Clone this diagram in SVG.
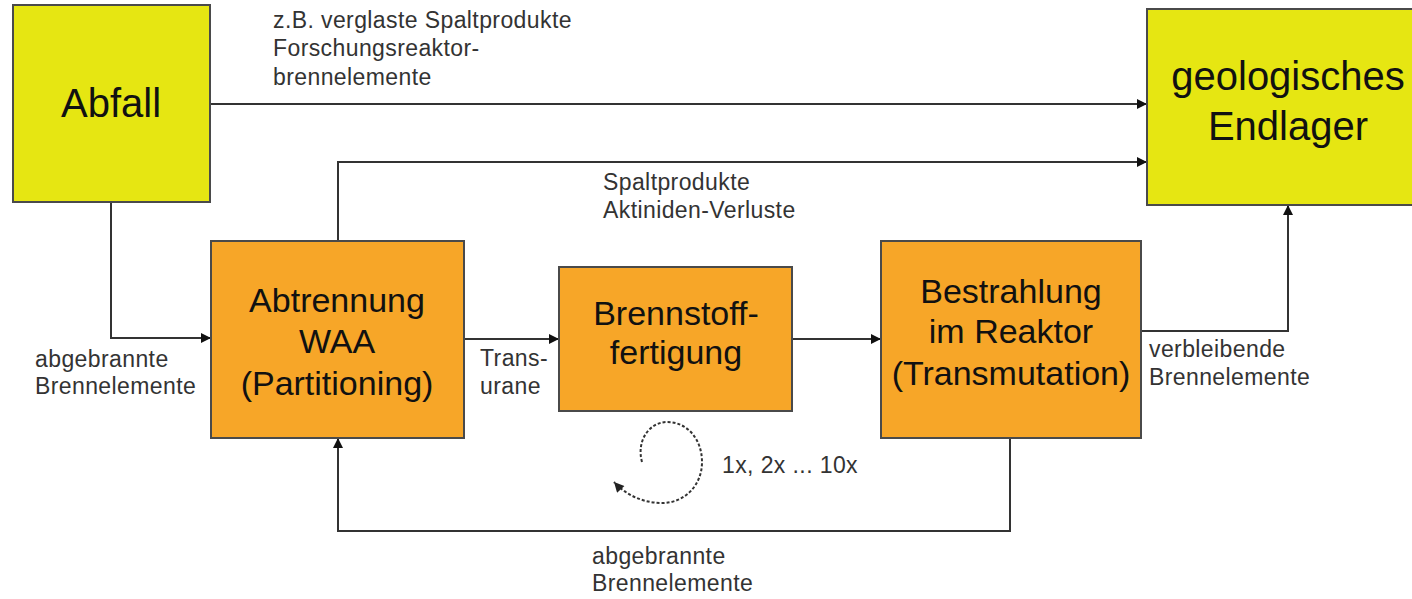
<svg xmlns="http://www.w3.org/2000/svg" width="1412" height="599" viewBox="0 0 1412 599">
<style>
.box{stroke:#4a4a4a;stroke-width:2}
.y{fill:#e6e612}
.o{fill:#f7a628}
.t{font-family:"Liberation Sans",Arial,sans-serif;fill:#111;text-anchor:middle}
.c{font-family:"Liberation Sans",Arial,sans-serif;fill:#333;font-size:23px;letter-spacing:0.4px}
.ln{fill:none;stroke:#333;stroke-width:2}
</style>
<defs>
<marker id="ah" viewBox="0 0 10 10" refX="10" refY="5" markerWidth="12" markerHeight="10" markerUnits="userSpaceOnUse" orient="auto">
<path d="M0,0 L10,5 L0,10 z" fill="#111"/>
</marker>
<marker id="ahs" viewBox="0 0 10 10" refX="10" refY="5" markerWidth="12" markerHeight="10" markerUnits="userSpaceOnUse" orient="auto">
<path d="M0,0 L10,5 L0,10 z" fill="#222"/>
</marker>
</defs>
<rect width="1412" height="599" fill="#fff"/>
<g id="connectors">
<path class="ln" d="M210,104 H1147" marker-end="url(#ah)"/>
<path class="ln" d="M338,241 V162 H1147" marker-end="url(#ah)"/>
<path class="ln" d="M111,202 V338 H211" marker-end="url(#ah)"/>
<path class="ln" d="M464,339 H559" marker-end="url(#ah)"/>
<path class="ln" d="M792,339 H881" marker-end="url(#ah)"/>
<path class="ln" d="M1141,331 H1288 V205" marker-end="url(#ah)"/>
<path class="ln" d="M1010,438 V531 H338 V438" marker-end="url(#ah)"/>
<path fill="none" stroke="#333" stroke-width="2" stroke-dasharray="3,2" d="M642,462 C636,440 650,422 667,422 C688,422 702,440 702,462 C702,486 684,503 662,503 C642,503 625,494 614,482" marker-end="url(#ahs)"/>
</g>
<g id="abfall">
<rect class="box y" x="13" y="5" width="197" height="197"/>
<text class="t" x="111" y="117" font-size="40">Abfall</text>
</g>
<g id="endlager">
<rect class="box y" x="1147" y="9" width="290" height="196"/>
<text class="t" x="1288" y="90" font-size="40">geologisches</text>
<text class="t" x="1288" y="140" font-size="40">Endlager</text>
</g>
<g id="abtrennung">
<rect class="box o" x="211" y="241" width="253" height="197"/>
<text class="t" x="337" y="312" font-size="34">Abtrennung</text>
<text class="t" x="337" y="353" font-size="34">WAA</text>
<text class="t" x="337" y="395" font-size="34">(Partitioning)</text>
</g>
<g id="brennstoff">
<rect class="box o" x="559" y="267" width="233" height="144"/>
<text class="t" x="676" y="325" font-size="34">Brennstoff-</text>
<text class="t" x="676" y="364" font-size="34">fertigung</text>
</g>
<g id="bestrahlung">
<rect class="box o" x="881" y="241" width="260" height="197"/>
<text class="t" x="1011" y="303" font-size="34">Bestrahlung</text>
<text class="t" x="1011" y="343" font-size="34">im Reaktor</text>
<text class="t" x="1011" y="385" font-size="34">(Transmutation)</text>
</g>
<g id="labels">
<text class="c" x="273" y="28">z.B. verglaste Spaltprodukte</text>
<text class="c" x="273" y="56">Forschungsreaktor-</text>
<text class="c" x="273" y="85">brennelemente</text>
<text class="c" x="603" y="190">Spaltprodukte</text>
<text class="c" x="603" y="218">Aktiniden-Verluste</text>
<text class="c" x="480" y="366">Trans-</text>
<text class="c" x="480" y="394">urane</text>
<text class="c" x="35" y="367">abgebrannte</text>
<text class="c" x="35" y="394">Brennelemente</text>
<text class="c" x="1149" y="357">verbleibende</text>
<text class="c" x="1149" y="385">Brennelemente</text>
<text class="c" x="722" y="473">1x, 2x ... 10x</text>
<text class="c" x="592" y="564">abgebrannte</text>
<text class="c" x="592" y="591">Brennelemente</text>
</g>
</svg>
